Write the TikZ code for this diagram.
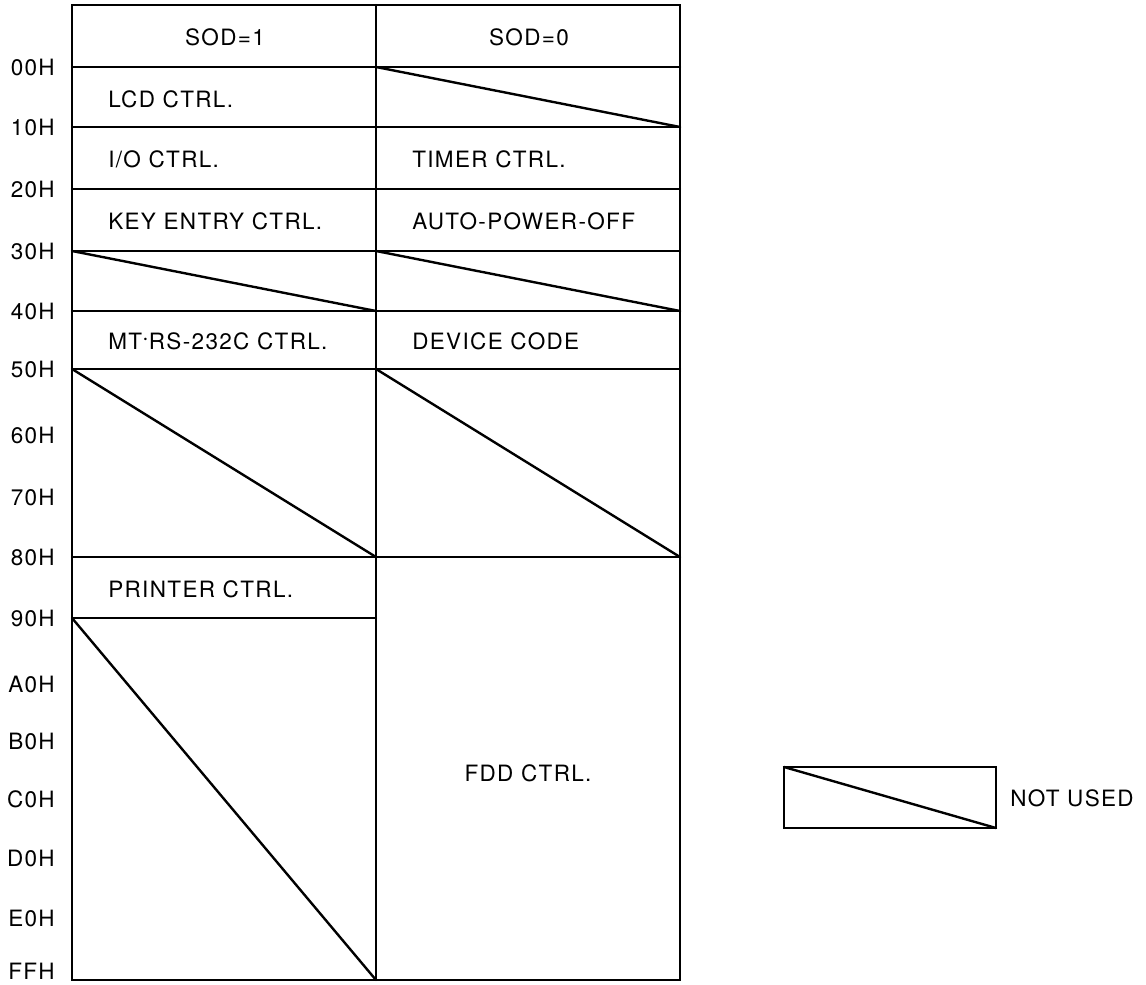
\documentclass[tikz,border=0pt]{standalone}
\usepackage{fontspec}
\setmainfont{TeX Gyre Heros}[LetterSpace=6]
\usepackage{tikz}
\usetikzlibrary{calc}
\tikzstyle{rule}=[line width=1.7pt, line cap=round]
\tikzstyle{lbl}=[font=\fontsize{16}{18}\selectfont, inner sep=0pt]
\tikzstyle{cell}=[lbl, anchor=west]
\tikzstyle{addr}=[lbl, anchor=east]
% crossed out block: #1 upper left, #2 lower right
\newcommand{\unusedblock}[2]{
	\draw[rule] #1 -- #2;
}

\begin{document}
\begin{tikzpicture}[x=0.025cm, y=-0.025cm]
	\useasboundingbox (0,0) rectangle (1146,985);
	% outer frame and column split
	\draw[rule] (72,5) rectangle (680,980);
	\draw[rule] (376,5) -- (376,980);
	% row boundaries
	\foreach \y in {67,127,189,251,311,369,557}
		\draw[rule] (72,\y) -- (680,\y);
	\draw[rule] (72,618) -- (376,618);
	% blocks not in use
	\unusedblock{(376,67)}{(680,127)}
	\unusedblock{(72,251)}{(376,311)}
	\unusedblock{(376,251)}{(680,311)}
	\unusedblock{(72,369)}{(376,557)}
	\unusedblock{(376,369)}{(680,557)}
	\unusedblock{(72,618)}{(376,980)}
	% headings
	\node[lbl] (sod1) at (225,37) {SOD=1};
	\node[lbl] (sod0) at (529,37) {SOD=0};
	% SOD=1 side
	\node[cell] (lcd) at (108,99) {LCD CTRL.};
	\node[cell] (io) at (108,159) {I/O CTRL.};
	\node[cell] (key) at (108,221) {KEY ENTRY CTRL.};
	\node[cell] (rs) at (108,341) {MT{\raisebox{0.3ex}{$\cdot$}}RS-232C CTRL.};
	\node[cell] (prn) at (108,589) {PRINTER CTRL.};
	% SOD=0 side
	\node[cell] (tmr) at (412,159) {TIMER CTRL.};
	\node[cell] (apo) at (412,221) {AUTO-POWER-OFF};
	\node[cell] (dev) at (412,341) {DEVICE CODE};
	\node[lbl] (fdd) at (528,773) {FDD CTRL.};
	% address marks
	\foreach \a/\y in {00H/67,10H/127,20H/189,30H/251,40H/311,50H/369,60H/435,70H/497,80H/557,90H/618,A0H/684,B0H/741,C0H/799,D0H/858,E0H/918,FFH/971}
		\node[addr] (a\a) at (55,\y) {\a};
	% key
	\draw[rule] (784,767) rectangle (996,828);
	\unusedblock{(784,767)}{(996,828)}
	\node[lbl, anchor=west] (nu) at (1010,798) {NOT USED};
\end{tikzpicture}
\end{document}
